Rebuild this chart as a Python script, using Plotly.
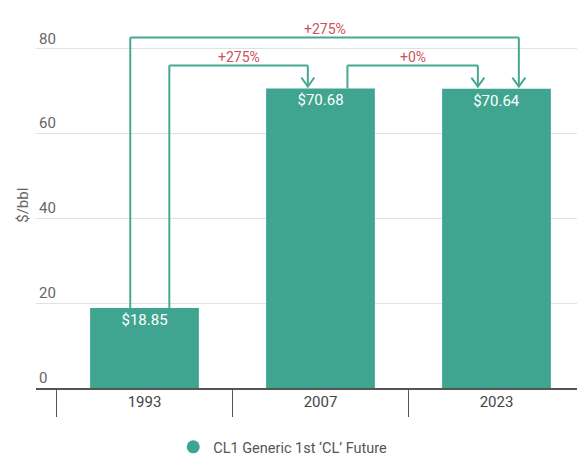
import plotly.graph_objects as go

# Price of the front-month WTI contract in three reference years
years = ["1993", "2007", "2023"]
prices = [18.85, 70.68, 70.64]
series_name = "CL1 Generic 1st ‘CL’ Future"
y_ticks = [0, 20, 40, 60, 80]

# Comparison brackets: (from bar, to bar, start offset, end offset, height above tallest bar)
comparisons = [
    (0, 2, -0.081, 0.127, 12.05),
    (0, 1, 0.141, -0.072, 5.45),
    (1, 2, 0.153, -0.106, 5.45),
]

BAR = "#40a590"
LINE = "#47a891"
RED = "#d0505a"
FONT = "Roboto"

fig = go.Figure()
fig.add_trace(go.Bar(
    x=years, y=prices,
    marker=dict(color=BAR, line=dict(width=0)),
    texttemplate="$%{y:.2f}",
    textposition="inside",
    insidetextanchor="end",
    textangle=0,
    textfont=dict(family=FONT, size=15, color="white"),
    showlegend=False,
    hoverinfo="skip",
))
# legend entry drawn with a round swatch
fig.add_trace(go.Scatter(
    x=[years[0]], y=[None], mode="markers", name=series_name,
    marker=dict(color=BAR, size=13, symbol="circle"),
))

shapes = []
annotations = []
top = max(prices)
for i_from, i_to, off_from, off_to, lift in comparisons:
    level = top + lift
    x0 = i_from + off_from
    x1 = i_to + off_to
    line = dict(color=LINE, width=2)
    shapes.append(dict(type="line", xref="x", yref="y", x0=x0, x1=x0,
                       y0=prices[i_from], y1=level, line=line))
    shapes.append(dict(type="line", xref="x", yref="y", x0=x0, x1=x1,
                       y0=level, y1=level, line=line))
    shapes.append(dict(type="line", xref="x", yref="y", x0=x1, x1=x1,
                       y0=level, y1=prices[i_to] + 0.5, line=line))
    # open chevron at the end of the bracket
    shapes.append(dict(type="path", xref="x", yref="y",
                       xsizemode="pixel", ysizemode="pixel",
                       xanchor=x1, yanchor=prices[i_to],
                       path="M -6.5,11 L 0,2 L 6.5,11", line=line))
    pct = int(round((prices[i_to] / prices[i_from] - 1) * 100))
    annotations.append(dict(
        x=(x0 + x1) / 2, y=level, xref="x", yref="y",
        text=f"{pct:+d}%", showarrow=False, yanchor="bottom", yshift=-2,
        font=dict(family=FONT, size=14, color=RED),
    ))

annotations.append(dict(
    x=0, xref="paper", y=43, yref="y", xshift=-24,
    text="$/bbl", textangle=-90, showarrow=False,
    font=dict(family=FONT, size=15, color="#666666"),
))

fig.update_layout(
    width=577, height=457,
    margin=dict(l=36, r=0, t=0, b=69),
    plot_bgcolor="white", paper_bgcolor="white",
    bargap=0.382,
    font=dict(family=FONT),
    shapes=shapes,
    annotations=annotations,
    legend=dict(
        orientation="h", xref="container", yref="container",
        x=0.49, xanchor="center", y=0.022, yanchor="middle",
        font=dict(family=FONT, size=14.5, color="#555555"),
        itemsizing="trace",
    ),
)
fig.update_xaxes(
    type="category",
    range=[-0.6165, 2.4574],
    showgrid=False,
    showline=True, linecolor="#555555", linewidth=1.5,
    ticks="outside", tickson="boundaries", ticklen=27,
    tickcolor="#555555", tickwidth=1,
    ticklabelstandoff=-1,
    tickfont=dict(family=FONT, size=15, color="#444444"),
)
fig.update_yaxes(
    range=[0, 91.56],
    tickvals=y_ticks,
    showgrid=True, gridcolor="#e2e2e2", gridwidth=1,
    zeroline=False, showline=False,
    ticklabelposition="inside top",
    tickfont=dict(family=FONT, size=15, color="#666666"),
)

fig.write_html("out.html")
